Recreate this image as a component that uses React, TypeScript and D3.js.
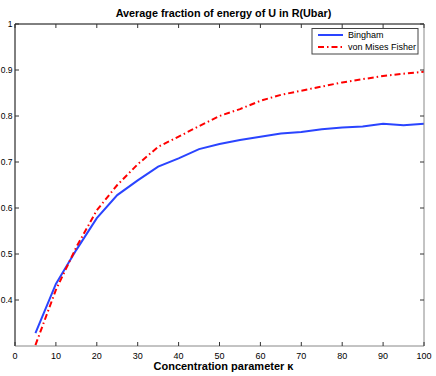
import React from "react";
import * as d3 from "d3";

const kappa = [5, 10, 15, 20, 25, 30, 35, 40, 45, 50, 55, 60, 65, 70, 75, 80, 85, 90, 95, 100];
const bingham = [0.328, 0.435, 0.509, 0.578, 0.628, 0.66, 0.69, 0.708, 0.728, 0.739, 0.748, 0.755, 0.762, 0.765, 0.771, 0.775, 0.777, 0.783, 0.78, 0.783];
const vmf = [0.302, 0.422, 0.515, 0.595, 0.65, 0.695, 0.733, 0.755, 0.778, 0.8, 0.815, 0.833, 0.846, 0.855, 0.864, 0.873, 0.88, 0.887, 0.892, 0.896];
const xTicks = [0, 10, 20, 30, 40, 50, 60, 70, 80, 90, 100];
const yTicks = [0.4, 0.5, 0.6, 0.7, 0.8, 0.9, 1];
const seriesNames = ["Bingham", "von Mises Fisher"];
const title = "Average fraction of energy of U in R(Ubar)";
const xLabel = "Concentration parameter κ";

export default function App() {
  const W = 436, H = 376;
  const L = 15, R = 424, T = 24, B = 346;
  const x = d3.scaleLinear().domain([0, 100]).range([L, R]);
  const y = d3.scaleLinear().domain([0.3, 1]).range([B, T]);
  const line = (vals: number[]) =>
    d3.line<number>().x((_, i) => x(kappa[i])).y((d) => y(d))(vals) || "";
  const font = "'Liberation Sans', Arial, Helvetica, sans-serif";
  return (
    <svg width={W} height={H} style={{ position: "absolute", left: 0, top: 0 }} fontFamily={font}>
      <rect x={0} y={0} width={W} height={H} fill="#fff" />
      {/* lines */}
      <path d={line(bingham)} fill="none" stroke="#2a44ff" strokeWidth={2} />
      <path d={line(vmf)} fill="none" stroke="#ff0000" strokeWidth={2} strokeDasharray="6,3,1.5,3" />
      {/* axes box */}
      <line x1={L} y1={T} x2={R} y2={T} stroke="#000" strokeWidth={1} />
      <line x1={L} y1={T} x2={L} y2={B} stroke="#000" strokeWidth={1} />
      <line x1={L} y1={B} x2={R} y2={B} stroke="#888" strokeWidth={1} />
      <line x1={R} y1={T} x2={R} y2={B} stroke="#888" strokeWidth={1} />
      {xTicks.map((t) => (
        <g key={"x" + t}>
          <line x1={x(t)} x2={x(t)} y1={B} y2={B - 4} stroke="#333" />
          <line x1={x(t)} x2={x(t)} y1={T} y2={T + 4} stroke="#333" />
          <text x={x(t)} y={359} fontSize={9} textAnchor="middle" fill="#000">{t}</text>
        </g>
      ))}
      {yTicks.map((t) => (
        <g key={"y" + t}>
          <line x1={L} x2={L + 4} y1={y(t)} y2={y(t)} stroke="#333" />
          <line x1={R} x2={R - 4} y1={y(t)} y2={y(t)} stroke="#333" />
          <text x={12.5} y={y(t) + 3} fontSize={8.5} textAnchor="end" fill="#000">{String(t)}</text>
        </g>
      ))}
      <text x={(L + R) / 2 + 4} y={17} fontSize={10.8} fontWeight="bold" textAnchor="middle">{title}</text>
      <text x={(L + R) / 2 + 4} y={370} fontSize={11} fontWeight="bold" textAnchor="middle">{xLabel}</text>
      {/* legend */}
      <rect x={312} y={28.5} width={106} height={25.5} fill="#fff" stroke="#444" strokeWidth={1} />
      <line x1={318} x2={343} y1={35} y2={35} stroke="#2a44ff" strokeWidth={2} />
      <line x1={318} x2={343} y1={47} y2={47} stroke="#ff0000" strokeWidth={2} strokeDasharray="6,3,1.5,3" />
      <text x={348} y={38} fontSize={9}>{seriesNames[0]}</text>
      <text x={348} y={50} fontSize={9}>{seriesNames[1]}</text>
    </svg>
  );
}
